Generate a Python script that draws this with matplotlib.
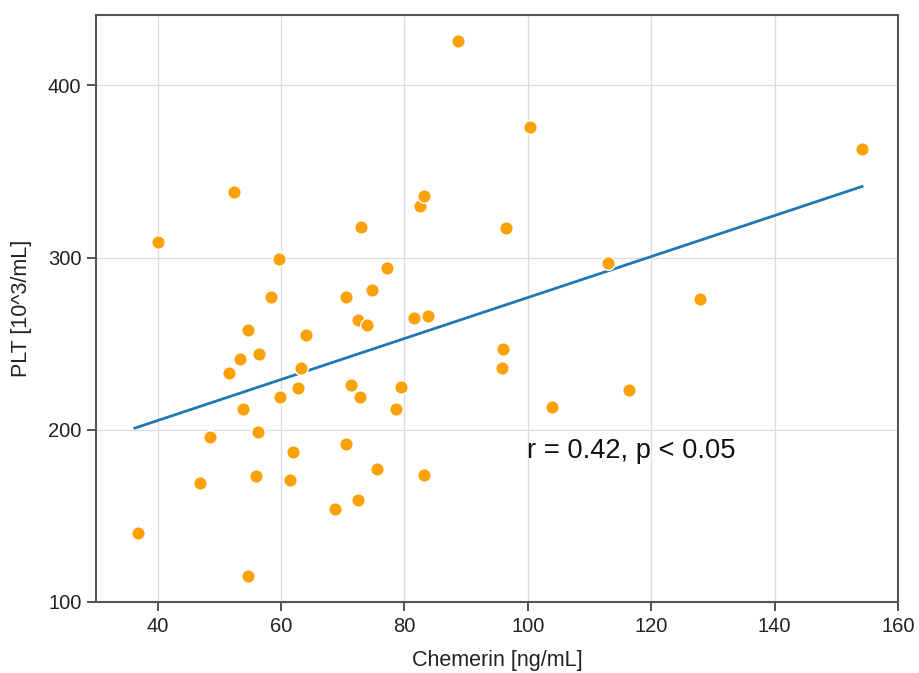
import matplotlib
matplotlib.use("Agg")
import matplotlib.pyplot as plt
import numpy as np

plt.rcParams['font.family'] = ['Liberation Sans', 'DejaVu Sans']

chemerin = [36.8, 40.0, 46.8, 48.4, 51.5, 52.3, 53.4, 53.9, 54.7, 54.7,
            55.9, 56.2, 56.5, 58.3, 59.7, 59.9, 61.4, 62.0, 62.7, 63.3,
            64.1, 68.8, 70.6, 70.6, 71.4, 72.4, 72.4, 72.8, 73.0, 74.0,
            74.8, 75.6, 77.2, 78.7, 79.5, 81.6, 82.6, 83.2, 83.2, 83.9,
            88.7, 96.0, 95.8, 96.5, 100.4, 103.9, 113.0, 116.4, 127.9, 154.2]
plt_vals = [140, 309, 169, 196, 233, 338, 241, 212, 258, 115,
            173, 199, 244, 277, 299, 219, 171, 187, 224, 236,
            255, 154, 192, 277, 226, 264, 159, 219, 318, 261,
            281, 177, 294, 212, 225, 265, 330, 174, 336, 266,
            426, 247, 236, 317, 376, 213, 297, 223, 276, 363]

fit_x = [36.3, 154.2]
fit_y = [201.0, 341.3]

annotation = "r = 0.42, p < 0.05"
x_ticks = [40, 60, 80, 100, 120, 140, 160]
y_ticks = [100, 200, 300, 400]

fig = plt.figure(figsize=(9.19, 6.73), dpi=100)
ax = fig.add_axes([0.1045, 0.1055, 0.8725, 0.8725])

ax.grid(True, color='#dcdcdc', linewidth=0.9, zorder=0)
ax.plot(fit_x, fit_y, color='#1f77b4', linewidth=2.0, zorder=2)
ax.scatter(chemerin, plt_vals, s=95, color='#fba20a', edgecolors='white',
           linewidths=1.0, zorder=3)

ax.text(99.9, 183.7, annotation, fontsize=19.6, ha='left', va='baseline', color='#111111')

ax.set_xlim(30, 160)
ax.set_ylim(100, 441)
ax.set_xticks(x_ticks)
ax.set_yticks(y_ticks)
ax.tick_params(axis='both', direction='out', length=6.5, width=1.2, pad=4,
               labelsize=14.5, colors='#333333', labelcolor='#222222')
for sp in ax.spines.values():
    sp.set_color('#555555')
    sp.set_linewidth(1.5)

ax.set_xlabel("Chemerin [ng/mL]", fontsize=15.5, color='#222222')
ax.set_ylabel("PLT [10^3/mL]", fontsize=15.5, color='#222222')
ax.xaxis.set_label_coords(0.5, -0.082)
ax.yaxis.set_label_coords(-0.080, 0.5)

fig.savefig("out.png", dpi=100)
